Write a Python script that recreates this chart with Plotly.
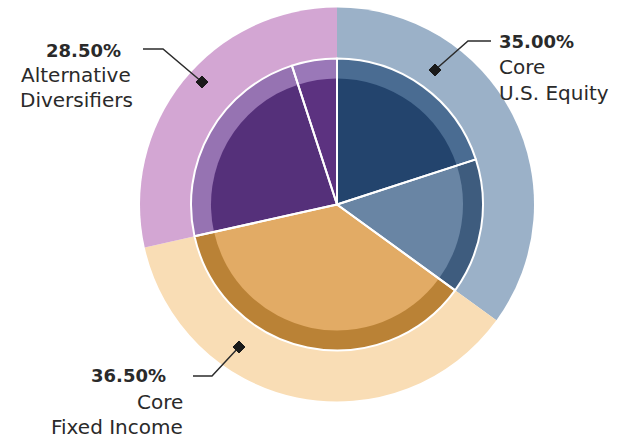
import plotly.graph_objects as go

# ---- data ----
groups = ["Core U.S. Equity", "Core Fixed Income", "Alternative Diversifiers"]
group_values = [35.0, 36.5, 28.5]
group_name_lines = [["Core", "U.S. Equity"], ["Core", "Fixed Income"], ["Alternative", "Diversifiers"]]
sub_labels = ["Equity A", "Equity B", "Fixed Income", "Alternatives A", "Alternatives B"]
sub_values = [20.0, 15.0, 36.5, 23.5, 5.0]

# ---- styling ----
W, H = 620, 439
CX, CY = 337, 204.5
R_OUT, R_IN, R_CORE = 197, 146, 126

outer_colors = ["#9BB1C8", "#F9DDB5", "#D3A6D3"]
ring_colors = ["#4A6C92", "#3E5C7E", "#BA8236", "#9673B2", "#9A78B8"]
core_colors = ["#23446D", "#6985A4", "#E2AB65", "#55307A", "#5C3280"]


def dom(r):
    return dict(x=[(CX - r) / W, (CX + r) / W],
                y=[(H - CY - r) / H, (H - CY + r) / H])


def px(x, y):
    return x / W, 1 - y / H


common = dict(sort=False, direction="clockwise", rotation=0,
              textinfo="none", hoverinfo="skip", showlegend=False)

fig = go.Figure()
fig.add_trace(go.Pie(labels=groups, values=group_values, domain=dom(R_OUT),
                     marker=dict(colors=outer_colors, line=dict(width=0)), **common))
fig.add_trace(go.Pie(labels=sub_labels, values=sub_values, domain=dom(R_IN),
                     marker=dict(colors=ring_colors, line=dict(width=0)), **common))
fig.add_trace(go.Pie(labels=sub_labels, values=sub_values, domain=dom(R_CORE),
                     marker=dict(colors=core_colors, line=dict(width=0)), **common))
fig.add_trace(go.Pie(labels=sub_labels, values=sub_values, domain=dom(R_IN),
                     marker=dict(colors=["rgba(0,0,0,0)"] * len(sub_values),
                                 line=dict(color="white", width=2)), **common))

# leader lines and diamonds (annotation decoration)
leaders = [
    [(435, 70), (468, 41), (491, 41)],      # equity
    [(239, 347), (212, 376), (193, 376)],   # fixed income
    [(202, 82), (163, 49), (143, 49)],      # alternatives
]
shapes = []
for pts in leaders:
    path = "M " + " L ".join(f"{px(*p)[0]},{px(*p)[1]}" for p in pts)
    shapes.append(dict(type="path", xref="paper", yref="paper", path=path,
                       line=dict(color="#2b2b2b", width=1.5), layer="above"))
    dx, dy = pts[0]
    d = 6
    dpath = "M {} L {} L {} L {} Z".format(
        "%f,%f" % px(dx, dy - d), "%f,%f" % px(dx + d, dy),
        "%f,%f" % px(dx, dy + d), "%f,%f" % px(dx - d, dy))
    shapes.append(dict(type="path", xref="paper", yref="paper", path=dpath,
                       fillcolor="#1a1a1a", line=dict(color="#1a1a1a", width=1),
                       layer="above"))

FONT = "DejaVu Sans, Liberation Sans, Arial, sans-serif"
TXT = "#2a2a2a"
# (x, anchor for pct, pct y, x for names, anchor for names, name line ys)
label_pos = [
    (497, "left", 41, 497, "left", [67, 93]),
    (168, "right", 375, 185, "right", [402, 427]),
    (83, "center", 50, 76, "center", [75, 100]),
]
annotations = []
for v, lines, (x1, a1, y1, x2, a2, ys) in zip(group_values, group_name_lines, label_pos):
    ax, ay = px(x1, y1)
    annotations.append(dict(x=ax, y=ay, xref="paper", yref="paper", showarrow=False,
                            text=f"<b>{v:.2f}%</b>", xanchor=a1, yanchor="middle",
                            font=dict(family=FONT, size=18, color=TXT)))
    for line, yy in zip(lines, ys):
        bx, by = px(x2, yy)
        annotations.append(dict(x=bx, y=by, xref="paper", yref="paper", showarrow=False,
                                text=line, xanchor=a2, yanchor="middle",
                                font=dict(family=FONT, size=20, color=TXT)))

fig.update_layout(width=W, height=H, margin=dict(l=0, r=0, t=0, b=0),
                  paper_bgcolor="white", plot_bgcolor="white",
                  shapes=shapes, annotations=annotations)
fig.write_html("out.html", config={"displayModeBar": False},
               post_script="document.body.style.margin='0';document.body.style.padding='0';")
